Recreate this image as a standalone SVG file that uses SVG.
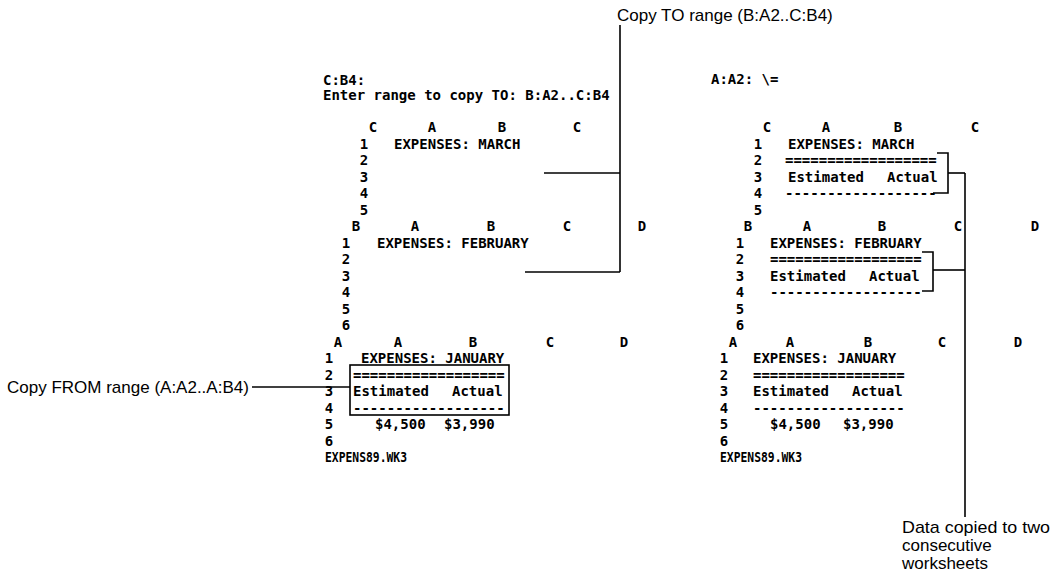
<svg xmlns="http://www.w3.org/2000/svg" width="1060" height="585" viewBox="0 0 1060 585">
<style>
.m{font-family:"DejaVu Sans Mono","Liberation Mono",monospace;font-size:14px;font-weight:bold;fill:#000}
.c{text-anchor:middle}
.l{font-family:"Liberation Sans",Arial,sans-serif;font-size:17px;fill:#000}
.ln{stroke:#000;stroke-width:1.6;fill:none}
</style>
<rect width="1060" height="585" fill="#fff"/>

<g id="label-copy-to"><text class="l" x="617" y="21">Copy TO range (B:A2..C:B4)</text></g>
<g id="label-copy-from"><text class="l" x="7" y="393">Copy FROM range (A:A2..A:B4)</text></g>
<g id="label-data-copied">
<text class="l" x="902" y="533" textLength="148" lengthAdjust="spacingAndGlyphs">Data copied to two</text>
<text class="l" x="902" y="551">consecutive</text>
<text class="l" x="902" y="569">worksheets</text>
</g>

<g id="left-screen">
<text class="m" x="323" y="85">C:B4:</text>
<text class="m" x="323" y="100">Enter range to copy TO: B:A2..C:B4</text>
<g id="left-sheet-c">
<text class="m c" x="373" y="132">C</text><text class="m c" x="432" y="132">A</text><text class="m c" x="502" y="132">B</text><text class="m c" x="577" y="132">C</text>
<text class="m c" x="364" y="148.5">1</text><text class="m c" x="364" y="165">2</text><text class="m c" x="364" y="181.5">3</text><text class="m c" x="364" y="198">4</text><text class="m c" x="364" y="214.5">5</text>
<text class="m" x="394" y="148.5">EXPENSES: MARCH</text>
</g>
<g id="left-sheet-b">
<text class="m c" x="356" y="231">B</text><text class="m c" x="415" y="231">A</text><text class="m c" x="491" y="231">B</text><text class="m c" x="567" y="231">C</text><text class="m c" x="642" y="231">D</text>
<text class="m c" x="346" y="247.5">1</text><text class="m c" x="346" y="264">2</text><text class="m c" x="346" y="280.5">3</text><text class="m c" x="346" y="297">4</text><text class="m c" x="346" y="313.5">5</text><text class="m c" x="346" y="330">6</text>
<text class="m" x="377" y="247.5">EXPENSES: FEBRUARY</text>
</g>
<g id="left-sheet-a">
<text class="m c" x="338" y="346.5">A</text><text class="m c" x="398" y="346.5">A</text><text class="m c" x="473" y="346.5">B</text><text class="m c" x="550" y="346.5">C</text><text class="m c" x="624" y="346.5">D</text>
<text class="m c" x="329" y="363">1</text><text class="m c" x="329" y="379.5">2</text><text class="m c" x="329" y="396">3</text><text class="m c" x="329" y="412.5">4</text><text class="m c" x="329" y="429">5</text><text class="m c" x="329" y="445.5">6</text>
<text class="m" x="361" y="363">EXPENSES: JANUARY</text>
<text class="m" x="353" y="379.5">==================</text>
<text class="m" x="353" y="396">Estimated</text><text class="m" x="452" y="396">Actual</text>
<text class="m" x="353" y="412.5">------------------</text>
<text class="m" x="375" y="429">$4,500</text><text class="m" x="444" y="429">$3,990</text>
<text class="m" x="325" y="462" textLength="82" lengthAdjust="spacingAndGlyphs">EXPENS89.WK3</text>
</g>
</g>

<g id="right-screen">
<text class="m" x="711" y="84">A:A2: \=</text>
<g id="right-sheet-c">
<text class="m c" x="767" y="132">C</text><text class="m c" x="826" y="132">A</text><text class="m c" x="898" y="132">B</text><text class="m c" x="975" y="132">C</text>
<text class="m c" x="758" y="148.5">1</text><text class="m c" x="758" y="165">2</text><text class="m c" x="758" y="181.5">3</text><text class="m c" x="758" y="198">4</text><text class="m c" x="758" y="214.5">5</text>
<text class="m" x="788" y="148.5">EXPENSES: MARCH</text>
<text class="m" x="785" y="165">==================</text>
<text class="m" x="788" y="181.5">Estimated</text><text class="m" x="887" y="181.5">Actual</text>
<text class="m" x="785" y="198">------------------</text>
</g>
<g id="right-sheet-b">
<text class="m c" x="748" y="231">B</text><text class="m c" x="807" y="231">A</text><text class="m c" x="882" y="231">B</text><text class="m c" x="958" y="231">C</text><text class="m c" x="1035" y="231">D</text>
<text class="m c" x="740" y="247.5">1</text><text class="m c" x="740" y="264">2</text><text class="m c" x="740" y="280.5">3</text><text class="m c" x="740" y="297">4</text><text class="m c" x="740" y="313.5">5</text><text class="m c" x="740" y="330">6</text>
<text class="m" x="770" y="247.5">EXPENSES: FEBRUARY</text>
<text class="m" x="770" y="264">==================</text>
<text class="m" x="770" y="280.5">Estimated</text><text class="m" x="869" y="280.5">Actual</text>
<text class="m" x="770" y="297">------------------</text>
</g>
<g id="right-sheet-a">
<text class="m c" x="733" y="346.5">A</text><text class="m c" x="790" y="346.5">A</text><text class="m c" x="868" y="346.5">B</text><text class="m c" x="942" y="346.5">C</text><text class="m c" x="1018" y="346.5">D</text>
<text class="m c" x="724" y="363">1</text><text class="m c" x="724" y="379.5">2</text><text class="m c" x="724" y="396">3</text><text class="m c" x="724" y="412.5">4</text><text class="m c" x="724" y="429">5</text><text class="m c" x="724" y="445.5">6</text>
<text class="m" x="753" y="363">EXPENSES: JANUARY</text>
<text class="m" x="753" y="379.5">==================</text>
<text class="m" x="753" y="396">Estimated</text><text class="m" x="852" y="396">Actual</text>
<text class="m" x="753" y="412.5">------------------</text>
<text class="m" x="770" y="429">$4,500</text><text class="m" x="843" y="429">$3,990</text>
<text class="m" x="720" y="462" textLength="82" lengthAdjust="spacingAndGlyphs">EXPENS89.WK3</text>
</g>
</g>

<g id="connectors">
<path class="ln" d="M620,25 V272"/>
<path class="ln" d="M544,173 H620"/>
<path class="ln" d="M525,272 H620"/>
<rect class="ln" x="350" y="365" width="159" height="50"/>
<path class="ln" d="M252,387 H350"/>
<path class="ln" d="M937,153 H948 V193 H933"/>
<path class="ln" d="M922,252 H933 V291 H922"/>
<path class="ln" d="M948,173 H965"/>
<path class="ln" d="M933,270 H965"/>
<path class="ln" d="M965,173 V517"/>
</g>
</svg>
